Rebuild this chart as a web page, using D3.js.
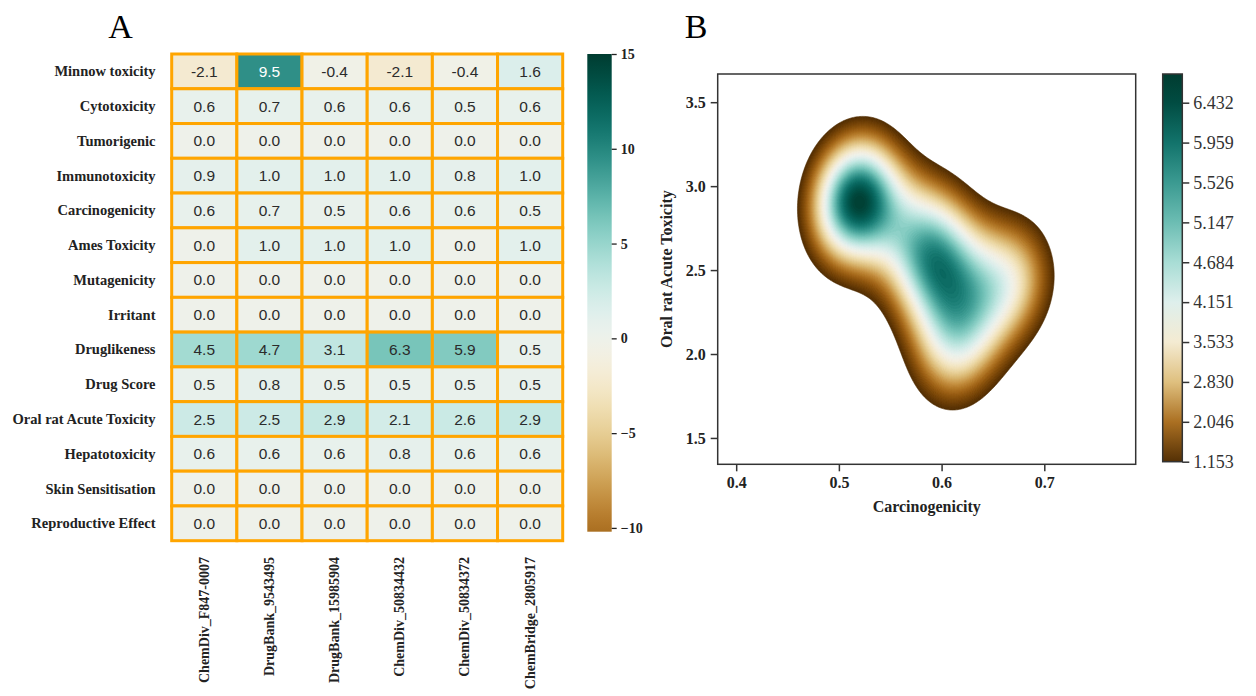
<!DOCTYPE html>
<html>
<head>
<meta charset="utf-8">
<script src="https://cdn.jsdelivr.net/npm/d3@7"></script>
<style>
  body { margin: 0; background: #fff; }
  svg { display: block; }
</style>
</head>
<body>
<div id="chart"></div>
<script>
// ---- data: panel A heatmap ----
let rowNames = ["Minnow toxicity", "Cytotoxicity", "Tumorigenic", "Immunotoxicity", "Carcinogenicity",
  "Ames Toxicity", "Mutagenicity", "Irritant", "Druglikeness", "Drug Score",
  "Oral rat Acute Toxicity", "Hepatotoxicity", "Skin Sensitisation", "Reproductive Effect"];
let colNames = ["ChemDiv_F847-0007", "DrugBank_9543495", "DrugBank_15985904",
  "ChemDiv_50834432", "ChemDiv_50834372", "ChemBridge_2805917"];
let heatValues = [
  [-2.1, 9.5, -0.4, -2.1, -0.4, 1.6],
  [0.6, 0.7, 0.6, 0.6, 0.5, 0.6],
  [0.0, 0.0, 0.0, 0.0, 0.0, 0.0],
  [0.9, 1.0, 1.0, 1.0, 0.8, 1.0],
  [0.6, 0.7, 0.5, 0.6, 0.6, 0.5],
  [0.0, 1.0, 1.0, 1.0, 0.0, 1.0],
  [0.0, 0.0, 0.0, 0.0, 0.0, 0.0],
  [0.0, 0.0, 0.0, 0.0, 0.0, 0.0],
  [4.5, 4.7, 3.1, 6.3, 5.9, 0.5],
  [0.5, 0.8, 0.5, 0.5, 0.5, 0.5],
  [2.5, 2.5, 2.9, 2.1, 2.6, 2.9],
  [0.6, 0.6, 0.6, 0.8, 0.6, 0.6],
  [0.0, 0.0, 0.0, 0.0, 0.0, 0.0],
  [0.0, 0.0, 0.0, 0.0, 0.0, 0.0]
];
let heatRange = [-10.2, 15];       // colorbar extent
let heatTicks = [-10, -5, 0, 5, 10, 15];
let heatCenter = 0;

// ---- data: panel B kde ----
let kdeCarcino = [0.603, 0.665, 0.517, 0.615, 0.580, 0.517];
let kdeOral    = [2.470, 2.430, 2.915, 2.060, 2.690, 2.915];
let kdeBandwidth = [0.031, 0.27, 0.1];   // sx, sy, rho
let xDomainB = [0.382, 0.789];
let yDomainB = [1.343, 3.668];
let xTicksB = [0.4, 0.5, 0.6, 0.7];
let yTicksB = [1.5, 2.0, 2.5, 3.0, 3.5];
let kdeCbarTicks = [1.153, 2.046, 2.830, 3.533, 4.151, 4.684, 5.147, 5.526, 5.959, 6.432];

function drawChart() {
  const W = 1256, H = 696;
  const serif = "'Liberation Serif', 'Times New Roman', serif";
  const sans = "'Liberation Sans', Arial, sans-serif";

  var svg = d3.select("#chart").append("svg")
    .attr("width", W).attr("height", H);
  var defs = svg.append("defs");

  // panel letters
  svg.append("text").attr("x", 120.5).attr("y", 38).attr("text-anchor", "middle")
    .style("font-family", serif).style("font-size", "34px").text("A");
  svg.append("text").attr("x", 696).attr("y", 38).attr("text-anchor", "middle")
    .style("font-family", serif).style("font-size", "34px").text("B");

  // ================= Panel A =================
  var x = d3.scaleBand().domain(colNames).range([171.7, 562.7]);
  var y = d3.scaleBand().domain(rowNames).range([54, 540.7]);

  var span = Math.max(heatRange[1] - heatCenter, heatCenter - heatRange[0]);
  function heatColor(v) { return d3.interpolateBrBG((v - heatCenter + span) / (2 * span)); }

  var cells = [];
  rowNames.forEach(function (r, i) {
    colNames.forEach(function (c, j) {
      cells.push({ row: r, col: c, v: heatValues[i][j] });
    });
  });

  var gA = svg.append("g");
  gA.selectAll("rect.cell")
    .data(cells)
    .enter()
    .append("rect")
    .attr("x", function (d) { return x(d.col); })
    .attr("y", function (d) { return y(d.row); })
    .attr("width", x.bandwidth())
    .attr("height", y.bandwidth())
    .style("fill", function (d) { return heatColor(d.v); })
    .attr("stroke", "#FFA500")
    .attr("stroke-width", 3);

  gA.selectAll("text.annot")
    .data(cells)
    .enter()
    .append("text")
    .attr("x", function (d) { return x(d.col) + x.bandwidth() / 2; })
    .attr("y", function (d) { return y(d.row) + y.bandwidth() / 2; })
    .attr("text-anchor", "middle")
    .attr("dominant-baseline", "central")
    .style("font-family", sans)
    .style("font-size", "15.5px")
    .style("fill", function (d) {
      var c = d3.rgb(heatColor(d.v));
      var lum = (0.299 * c.r + 0.587 * c.g + 0.114 * c.b) / 255;
      return lum < 0.5 ? "#ffffff" : "#2b2b2b";
    })
    .text(function (d) { return d.v.toFixed(1); });

  // row labels
  gA.selectAll("text.rowlab")
    .data(rowNames)
    .enter()
    .append("text")
    .attr("x", 155.5)
    .attr("y", function (d) { return y(d) + y.bandwidth() / 2; })
    .attr("text-anchor", "end")
    .attr("dominant-baseline", "central")
    .style("font-family", serif)
    .style("font-weight", "bold")
    .style("font-size", "14.5px")
    .style("fill", "#222")
    .text(function (d) { return d; });

  // column labels
  gA.selectAll("text.collab")
    .data(colNames)
    .enter()
    .append("text")
    .attr("transform", function (d) {
      return "translate(" + (x(d) + x.bandwidth() / 2) + ",557)rotate(-90)";
    })
    .attr("text-anchor", "end")
    .attr("dominant-baseline", "central")
    .style("font-family", serif)
    .style("font-weight", "bold")
    .style("font-size", "14px")
    .style("fill", "#222")
    .text(function (d) { return d; });

  // colorbar A
  var cbY = d3.scaleLinear().domain(heatRange).range([531.7, 54]);
  var gradA = defs.append("linearGradient").attr("id", "gradA")
    .attr("x1", 0).attr("y1", 1).attr("x2", 0).attr("y2", 0);
  d3.range(0, 1.0001, 0.02).forEach(function (t) {
    var v = heatRange[0] + t * (heatRange[1] - heatRange[0]);
    gradA.append("stop").attr("offset", t).attr("stop-color", heatColor(v));
  });
  svg.append("rect").attr("x", 587.3).attr("y", cbY(heatRange[1]))
    .attr("width", 24.4).attr("height", cbY(heatRange[0]) - cbY(heatRange[1]))
    .style("fill", "url(#gradA)");
  var axA = svg.append("g").attr("transform", "translate(611.7,0)")
    .call(d3.axisRight(cbY).tickValues(heatTicks).tickSize(5).tickPadding(4));
  axA.select(".domain").remove();
  axA.selectAll(".tick line").attr("stroke", "#222").attr("stroke-width", 1.3);
  axA.selectAll(".tick text").style("font-family", serif).style("font-weight", "bold")
    .style("font-size", "14px").style("fill", "#222");

  // ================= Panel B =================
  var bLeft = 717.7, bRight = 1135.7, bTop = 74, bBottom = 464.3;
  var xb = d3.scaleLinear().domain(xDomainB).range([bLeft, bRight]);
  var yb = d3.scaleLinear().domain(yDomainB).range([bBottom, bTop]);

  // gaussian kde on a grid
  var sx = kdeBandwidth[0], sy = kdeBandwidth[1], rho = kdeBandwidth[2];
  var nPts = kdeCarcino.length;
  var norm = 1 / (2 * Math.PI * sx * sy * Math.sqrt(1 - rho * rho) * nPts);
  function density(px, py) {
    var s = 0;
    for (var k = 0; k < nPts; k++) {
      var zx = (px - kdeCarcino[k]) / sx, zy = (py - kdeOral[k]) / sy;
      var q = (zx * zx + zy * zy - 2 * rho * zx * zy) / (1 - rho * rho);
      s += Math.exp(-0.5 * q);
    }
    return s * norm;
  }
  var gw = 260, gh = 260;
  var stepX = (xDomainB[1] - xDomainB[0]) / gw, stepY = (yDomainB[1] - yDomainB[0]) / gh;
  var grid = new Array(gw * gh);
  for (var j = 0; j < gh; j++) {
    for (var i = 0; i < gw; i++) {
      grid[j * gw + i] = density(xDomainB[0] + (i + 0.5) * stepX, yDomainB[1] - (j + 0.5) * stepY);
    }
  }
  var dMax = d3.max(grid);
  var lo = kdeCbarTicks[0];
  var levels = d3.range(0, 90).map(function (k) { return lo + k * (dMax - lo) / 90; });
  function kdeColor(v) { return d3.interpolateBrBG((v - lo) / (dMax - lo)); }

  var contours = d3.contours().size([gw, gh]).thresholds(levels)(grid);
  var proj = d3.geoTransform({
    point: function (gx, gy) {
      this.stream.point(xb(xDomainB[0] + gx * stepX), yb(yDomainB[1] - gy * stepY));
    }
  });
  var path = d3.geoPath(proj);

  defs.append("clipPath").attr("id", "clipB").append("rect")
    .attr("x", bLeft).attr("y", bTop).attr("width", bRight - bLeft).attr("height", bBottom - bTop);

  svg.append("g").attr("clip-path", "url(#clipB)")
    .selectAll("path")
    .data(contours)
    .enter()
    .append("path")
    .attr("d", path)
    .style("fill", function (d) { return kdeColor(d.value); })
    .style("stroke", function (d) { return kdeColor(d.value); })
    .style("stroke-width", 0.6);

  // frame
  svg.append("rect").attr("x", bLeft).attr("y", bTop).attr("width", bRight - bLeft).attr("height", bBottom - bTop)
    .style("fill", "none").style("stroke", "#333").style("stroke-width", 1.5);

  var axX = svg.append("g").attr("transform", "translate(0," + bBottom + ")")
    .call(d3.axisBottom(xb).tickValues(xTicksB).tickFormat(d3.format(".1f")).tickSize(7).tickPadding(5));
  var axY = svg.append("g").attr("transform", "translate(" + bLeft + ",0)")
    .call(d3.axisLeft(yb).tickValues(yTicksB).tickFormat(d3.format(".1f")).tickSize(7).tickPadding(5));
  [axX, axY].forEach(function (a) {
    a.select(".domain").remove();
    a.selectAll(".tick line").attr("stroke", "#333").attr("stroke-width", 1.5);
    a.selectAll(".tick text").style("font-family", serif).style("font-weight", "bold")
      .style("font-size", "16px").style("fill", "#222");
  });

  svg.append("text").attr("x", (bLeft + bRight) / 2).attr("y", 512).attr("text-anchor", "middle")
    .style("font-family", serif).style("font-weight", "bold").style("font-size", "16px")
    .style("fill", "#222").text("Carcinogenicity");
  svg.append("text").attr("transform", "translate(672," + ((bTop + bBottom) / 2) + ")rotate(-90)")
    .attr("text-anchor", "middle")
    .style("font-family", serif).style("font-weight", "bold").style("font-size", "16px")
    .style("fill", "#222").text("Oral rat Acute Toxicity");

  // colorbar B
  var cbTop = 74, cbBottom = 461.7, cbL = 1162.7, cbR = 1182.3;
  var cbB = d3.scalePoint().domain(kdeCbarTicks).range([cbBottom, 102.7]);
  var gradB = defs.append("linearGradient").attr("id", "gradB")
    .attr("gradientUnits", "userSpaceOnUse")
    .attr("x1", 0).attr("y1", cbBottom).attr("x2", 0).attr("y2", cbTop);
  kdeCbarTicks.forEach(function (v) {
    gradB.append("stop").attr("offset", (cbBottom - cbB(v)) / (cbBottom - cbTop))
      .attr("stop-color", kdeColor(v));
  });
  gradB.append("stop").attr("offset", 1).attr("stop-color", kdeColor(dMax));
  svg.append("rect").attr("x", cbL).attr("y", cbTop).attr("width", cbR - cbL).attr("height", cbBottom - cbTop)
    .style("fill", "url(#gradB)").style("stroke", "#333").style("stroke-width", 1.5);
  var axCb = svg.append("g").attr("transform", "translate(" + cbR + ",0)")
    .call(d3.axisRight(cbB).tickFormat(d3.format(".3f")).tickSize(7).tickPadding(4));
  axCb.select(".domain").remove();
  axCb.selectAll(".tick line").attr("stroke", "#333").attr("stroke-width", 1.5);
  axCb.selectAll(".tick text").style("font-family", serif)
    .style("font-size", "18px").style("fill", "#333");
}

drawChart();
</script>
</body>
</html>
